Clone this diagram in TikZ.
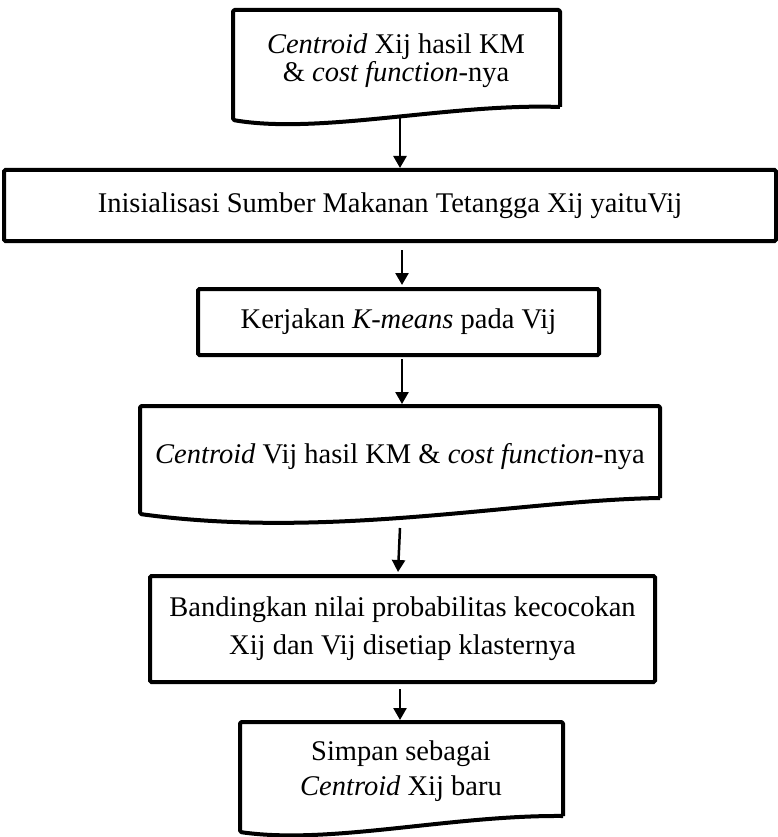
\documentclass[tikz,border=0pt]{standalone}
\usepackage{fontspec}
\setmainfont{Liberation Serif}
\usetikzlibrary{arrows.meta}
\begin{document}
\begin{tikzpicture}[x=1pt,y=-1pt,
  box/.style={draw,line width=4pt,rounded corners=1.5pt,align=center,inner sep=0pt,font=\fontsize{28.5}{35}\selectfont},
  txt/.style={align=center,inner sep=0pt,font=\fontsize{28.5}{35}\selectfont},
  docline/.style={line width=4pt,line join=round,rounded corners=1.5pt},
  arr/.style={line width=2.5pt,-{Triangle[length=12pt,width=13pt]}}]
\useasboundingbox (0,0) rectangle (778,837);

% Document 1
\draw[docline] (560,107) -- (560,10) -- (233,10) -- (233,120) [rounded corners=0pt] .. controls (320,135) and (450,103) .. (560,107);
\node[txt,font=\fontsize{28.5}{28}\selectfont] (d1) at (396,61) {\textit{Centroid} Xij hasil KM\\\& \textit{cost function}-nya};
\coordinate (d1b) at (400,118);

% Box 2
\node[box,minimum width=772pt,minimum height=71pt] (b2) at (390,205.5) {Inisialisasi Sumber Makanan Tetangga Xij yaituVij};

% Box 3
\node[box,minimum width=401pt,minimum height=66pt] (b3) at (398.5,322) {Kerjakan \textit{K-means} pada Vij};

% Document 4
\draw[docline] (660,498) -- (660,406) -- (140,406) -- (140,514) [rounded corners=0pt] .. controls (330,540) and (520,500) .. (660,498);
\node[txt] (d4) at (400,457) {\textit{Centroid} Vij hasil KM \& \textit{cost function}-nya};
\coordinate (d4b) at (400,528);

% Box 5
\node[box,minimum width=505pt,minimum height=106pt,font=\fontsize{28.5}{38}\selectfont] (b5) at (402.5,629) {Bandingkan nilai probabilitas kecocokan\\Xij dan Vij disetiap klasternya};

% Document 6
\draw[docline] (563,816) -- (563,722) -- (240,722) -- (240,832) [rounded corners=0pt] .. controls (330,845) and (450,815) .. (563,816);
\node[txt] (d6) at (401,771) {Simpan sebagai\\\textit{Centroid} Xij baru};

% Connectors
\draw[arr] (d1b) -- (d1b |- b2.north);
\draw[arr] ([xshift=12pt,yshift=-7pt]b2.south) -- ([xshift=3.5pt,yshift=2pt]b3.north);
\draw[arr] ([xshift=3.5pt,yshift=-2pt]b3.south) -- (402,404);
\draw[arr] (d4b) -- ([xshift=-4.5pt,yshift=2pt]b5.north);
\draw[arr] ([xshift=-2.5pt,yshift=-5pt]b5.south) -- (400,720);
\end{tikzpicture}
\end{document}
